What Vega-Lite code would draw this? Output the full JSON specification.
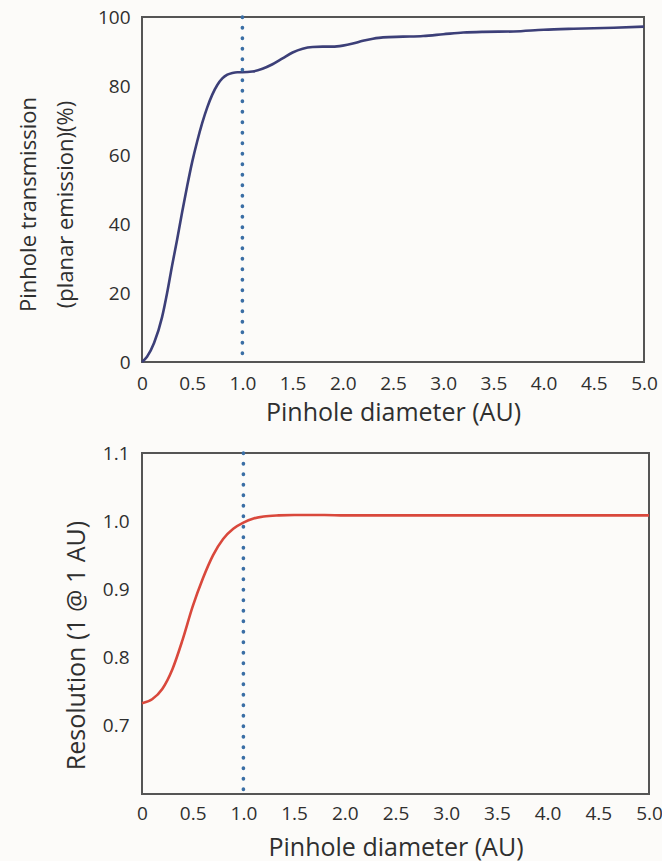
{
  "$schema": "https://vega.github.io/schema/vega-lite/v6.json",
  "background": "#fcfbf9",
  "padding": {"left": 16, "top": 7, "right": 0, "bottom": 0},
  "bounds": "flush",
  "spacing": 91,
  "config": {
    "view": {"stroke": "#555555", "strokeWidth": 2},
    "font": "Open Sans",
    "axis": {
      "grid": false, "ticks": false, "domain": false,
      "labelFont": "Open Sans", "labelFontSize": 19, "labelColor": "#2f2f2f",
      "titleFont": "Open Sans", "titleFontWeight": "normal", "titleColor": "#2f2f2f",
      "labelFlush": false, "labelOverlap": false
    }
  },
  "datasets": {
    "trans": [
      {"d": 0, "t": 0}, {"d": 0.05, "t": 1.5}, {"d": 0.12, "t": 5.5}, {"d": 0.2, "t": 13},
      {"d": 0.25, "t": 20}, {"d": 0.3, "t": 28}, {"d": 0.35, "t": 35.5}, {"d": 0.4, "t": 43.5},
      {"d": 0.45, "t": 51}, {"d": 0.5, "t": 58}, {"d": 0.55, "t": 64}, {"d": 0.6, "t": 69.3},
      {"d": 0.65, "t": 73.8}, {"d": 0.7, "t": 77.5}, {"d": 0.75, "t": 80.3}, {"d": 0.8, "t": 82.2},
      {"d": 0.85, "t": 83.3}, {"d": 0.9, "t": 83.8}, {"d": 0.95, "t": 84}, {"d": 1.0, "t": 84},
      {"d": 1.1, "t": 84.2}, {"d": 1.2, "t": 85}, {"d": 1.3, "t": 86.3}, {"d": 1.4, "t": 88},
      {"d": 1.5, "t": 89.7}, {"d": 1.6, "t": 90.8}, {"d": 1.7, "t": 91.3}, {"d": 1.8, "t": 91.4},
      {"d": 1.9, "t": 91.4}, {"d": 2.0, "t": 91.7}, {"d": 2.1, "t": 92.3}, {"d": 2.2, "t": 93.1},
      {"d": 2.3, "t": 93.7}, {"d": 2.4, "t": 94.1}, {"d": 2.6, "t": 94.3}, {"d": 2.8, "t": 94.5},
      {"d": 3.0, "t": 95}, {"d": 3.2, "t": 95.5}, {"d": 3.4, "t": 95.7}, {"d": 3.7, "t": 95.8},
      {"d": 4.0, "t": 96.3}, {"d": 4.3, "t": 96.6}, {"d": 4.7, "t": 96.9}, {"d": 5.0, "t": 97.2}
    ],
    "res": [
      {"d": 0, "r": 0.733}, {"d": 0.1, "r": 0.739}, {"d": 0.2, "r": 0.754}, {"d": 0.3, "r": 0.783},
      {"d": 0.4, "r": 0.826}, {"d": 0.5, "r": 0.875}, {"d": 0.6, "r": 0.916}, {"d": 0.7, "r": 0.95},
      {"d": 0.8, "r": 0.974}, {"d": 0.9, "r": 0.989}, {"d": 1.0, "r": 0.998}, {"d": 1.1, "r": 1.004},
      {"d": 1.2, "r": 1.007}, {"d": 1.35, "r": 1.0085}, {"d": 1.5, "r": 1.009}, {"d": 1.8, "r": 1.009},
      {"d": 2.0, "r": 1.0085}, {"d": 3.0, "r": 1.0085}, {"d": 4.0, "r": 1.0085}, {"d": 5.0, "r": 1.0085}
    ],
    "marker": [{"d": 1.0}]
  },
  "vconcat": [
    {
      "width": 502,
      "height": 345,
      "layer": [
        {
          "data": {"name": "trans"},
          "mark": {"type": "line", "color": "#3c3f78", "strokeWidth": 2.6, "interpolate": "monotone"},
          "encoding": {
            "x": {
              "field": "d", "type": "quantitative",
              "scale": {"domain": [0, 5], "nice": false},
              "axis": {
                "values": [0, 0.5, 1, 1.5, 2, 2.5, 3, 3.5, 4, 4.5, 5],
                "labelExpr": "datum.value == 0 ? '0' : format(datum.value, '.1f')",
                "labelPadding": 12,
                "title": "Pinhole diameter (AU)", "titleFontSize": 25, "titlePadding": 7
              }
            },
            "y": {
              "field": "t", "type": "quantitative",
              "scale": {"domain": [0, 100], "nice": false},
              "axis": {
                "values": [0, 20, 40, 60, 80, 100],
                "labelPadding": 12,
                "title": ["Pinhole transmission", "(planar emission)(%)"],
                "titleFontSize": 22, "titleLineHeight": 37, "titlePadding": 20, "titleY": 187
              }
            }
          }
        },
        {
          "data": {"name": "marker"},
          "mark": {"type": "rule", "color": "#3a6ea5", "strokeWidth": 3.6, "strokeDash": [0.5, 10], "strokeCap": "round"},
          "encoding": {"x": {"field": "d", "type": "quantitative"}}
        }
      ]
    },
    {
      "width": 507,
      "height": 341,
      "layer": [
        {
          "data": {"name": "res"},
          "mark": {"type": "line", "color": "#d9483c", "strokeWidth": 2.6, "interpolate": "monotone"},
          "encoding": {
            "x": {
              "field": "d", "type": "quantitative",
              "scale": {"domain": [0, 5], "nice": false},
              "axis": {
                "values": [0, 0.5, 1, 1.5, 2, 2.5, 3, 3.5, 4, 4.5, 5],
                "labelExpr": "datum.value == 0 ? '0' : format(datum.value, '.1f')",
                "labelPadding": 10,
                "title": "Pinhole diameter (AU)", "titleFontSize": 25, "titlePadding": 12
              }
            },
            "y": {
              "field": "r", "type": "quantitative",
              "scale": {"domain": [0.6, 1.1], "nice": false, "zero": false},
              "axis": {
                "values": [0.7, 0.8, 0.9, 1.0, 1.1],
                "format": ".1f",
                "labelPadding": 13,
                "title": "Resolution (1 @ 1  AU)",
                "titleFontSize": 25, "titlePadding": 13, "titleY": 192
              }
            }
          }
        },
        {
          "data": {"name": "marker"},
          "mark": {"type": "rule", "color": "#3a6ea5", "strokeWidth": 3.6, "strokeDash": [0.5, 10], "strokeCap": "round"},
          "encoding": {"x": {"field": "d", "type": "quantitative"}}
        }
      ]
    }
  ]
}
